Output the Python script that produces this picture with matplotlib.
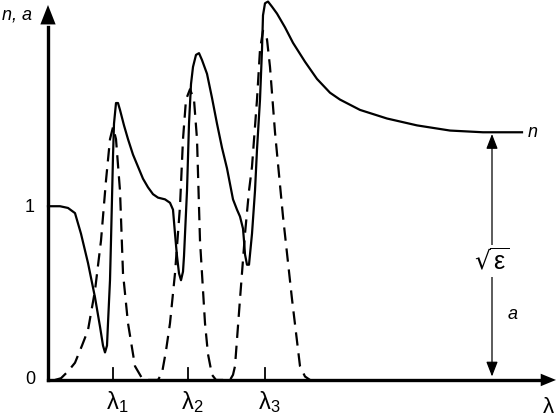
#!/usr/bin/env python3
"""Refractive index n and absorption a near three absorption lines."""
import matplotlib.pyplot as plt

plt.rcParams["font.family"] = ["Liberation Sans", "DejaVu Sans"]

# wavelength (arbitrary units) and refractive index n
n_lam = [0, 12, 20, 27, 33, 40, 47, 52, 55, 57, 59, 60, 62, 63, 65, 66, 68, 70,
         72, 76, 80, 85, 90, 95, 100, 105, 110, 117, 122, 125, 127, 129, 131,
         133, 135, 136, 139, 141, 143, 145, 148, 151, 154, 159, 164, 169, 174,
         179, 185, 189, 192, 195, 196, 197, 199, 201, 204, 207, 209, 212, 214,
         215, 217, 220, 224, 229, 237, 245, 257, 269, 282, 292, 312, 339, 369,
         402, 435, 474]
n_val = [1.01, 1.01, 1.00, 0.97, 0.85, 0.68, 0.48, 0.31, 0.20, 0.16, 0.20, 0.33,
         0.58, 0.81, 1.30, 1.49, 1.61, 1.61, 1.57, 1.48, 1.40, 1.31, 1.24, 1.17,
         1.12, 1.08, 1.06, 1.05, 1.03, 0.99, 0.85, 0.72, 0.62, 0.58, 0.63, 0.72,
         1.10, 1.49, 1.72, 1.82, 1.89, 1.90, 1.86, 1.78, 1.64, 1.49, 1.35, 1.23,
         1.05, 0.99, 0.95, 0.88, 0.81, 0.73, 0.67, 0.67, 0.85, 1.10, 1.34, 1.63,
         1.92, 2.12, 2.19, 2.20, 2.17, 2.13, 2.05, 1.96, 1.85, 1.75, 1.67, 1.63,
         1.57, 1.52, 1.48, 1.45, 1.44, 1.44]

# absorption a
a_lam = [7, 13, 20, 27, 34, 40, 47, 53, 58, 62, 65, 68, 72, 75, 80, 87, 94, 100,
         110, 114, 118, 122, 127, 132, 135, 138, 142, 146, 149, 152, 157, 160,
         164, 168, 182, 185, 187, 192, 197, 201, 204, 209, 212, 215, 219, 222,
         227, 235, 244, 252, 257, 262]
a_val = [0, 0.01, 0.05, 0.10, 0.20, 0.29, 0.52, 0.81, 1.16, 1.40, 1.47, 1.40,
         1.10, 0.62, 0.33, 0.08, 0.01, 0, 0, 0.04, 0.17, 0.33, 0.62, 1.01, 1.40,
         1.63, 1.69, 1.63, 1.40, 0.81, 0.33, 0.15, 0.03, 0, 0, 0.03, 0.08, 0.47,
         0.85, 1.10, 1.24, 1.63, 1.92, 2.03, 1.98, 1.82, 1.44, 0.95, 0.47, 0.08,
         0.02, 0]

line_lam = [65, 140, 217]
line_labels = [r"$\mathregular{\lambda_1}$", r"$\mathregular{\lambda_2}$",
               r"$\mathregular{\lambda_3}$"]
n_inf = 1.44
lam_max = 507
y_max = 2.15

fig = plt.figure(figsize=(5.6, 4.19), dpi=100)
ax = fig.add_axes([0, 0, 1, 1])
ax.set_xlim(-48, 512)
ax.set_ylim(-0.227, 2.209)
ax.axis("off")

ax.plot(n_lam, n_val, color="black", lw=1.6, solid_joinstyle="round")
ax.plot(a_lam, a_val, color="black", lw=1.6, dashes=(6, 3.5))

# axes with arrow heads
ax.plot([0, lam_max - 14], [0, 0], color="black", lw=2.4)
ax.plot([0, 0], [0, y_max - 0.1], color="black", lw=2.4)
ax.annotate("", xy=(lam_max + 1, 0), xytext=(lam_max - 16, 0),
            arrowprops=dict(arrowstyle="-|>,head_length=1.1,head_width=0.45",
                            color="black", lw=0, shrinkA=0, shrinkB=0))
ax.annotate("", xy=(0, y_max + 0.03), xytext=(0, y_max - 0.1),
            arrowprops=dict(arrowstyle="-|>,head_length=1.4,head_width=0.55",
                            color="black", lw=0, shrinkA=0, shrinkB=0))

# line positions
for lam, lab in zip(line_lam, line_labels):
    ax.plot([lam, lam], [0, 0.07], color="black", lw=1.3)
    ax.text(lam + 4, -0.13, lab, ha="center", va="center", fontsize=17)

ax.text(-18, 1.0, "1", ha="center", va="center", fontsize=13)
ax.text(-18, 0.0, "0", ha="center", va="center", fontsize=13)
ax.text(-46, 2.12, "n, a", ha="left", va="center", fontsize=13, style="italic")
ax.text(lam_max - 7, -0.16, r"$\mathregular{\lambda}$", ha="center",
        va="center", fontsize=16)
ax.text(480, n_inf, "n", ha="left", va="center", fontsize=13, style="italic")
ax.text(460, 0.38, "a", ha="left", va="center", fontsize=13, style="italic")

# sqrt(eps) double arrow
x_arr = 444
ax.annotate("", xy=(x_arr, n_inf - 0.01), xytext=(x_arr, 0.02),
            arrowprops=dict(arrowstyle="<|-|>,head_length=0.9,head_width=0.35",
                            color="black", lw=0.9, shrinkA=0, shrinkB=0))
ax.text(x_arr, 0.69, r"$\mathregular{\sqrt{\varepsilon}}$", ha="center",
        va="center", fontsize=18,
        bbox=dict(facecolor="white", edgecolor="none", pad=2))

fig.savefig("out.png", dpi=100)
